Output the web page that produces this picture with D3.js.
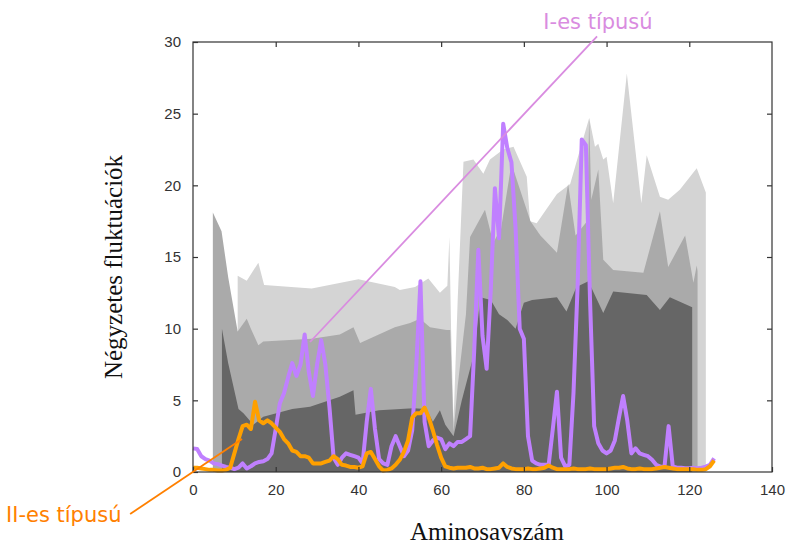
<!DOCTYPE html>
<html><head><meta charset="utf-8">
<script src="https://cdn.jsdelivr.net/npm/d3@7"></script>
<style>html,body{margin:0;padding:0;background:#fff;}svg{display:block;}</style>
</head><body>
<svg id="chart" width="787" height="547"></svg>
<script>
// ---- data ----
const xTicks = [0, 20, 40, 60, 80, 100, 120, 140];
const yTicks = [0, 5, 10, 15, 20, 25, 30];

// gray envelopes (residue, value)
const lightRes = [10.8,13,15.8,17.2,28.7,40,48.8,50,53.7,56.9,59.7,61.5,62,62.4,63,64,65.4,67.8,70.2,71.8,75,77.5,80.7,81.5,83.1,88,91.2,93.4,95.8,97.2,98,99.2,100,101.6,104.9,108.4,109.7,112.9,114.9,117.7,121.8,124];
const lightVal = [13.7,13.35,14.6,13.05,12.8,13.45,12.9,12.7,12.9,13.5,12.5,13,16.4,10,3.5,12,21.65,21.8,20.8,21.8,22.5,22.7,20.6,17.5,17.35,19.4,20.1,22.3,24.7,22.7,22.9,21.8,22,18.75,27.8,18.75,22.1,19.2,19,19.7,21.2,19.5];

const medRes = [4.8,6.9,8.5,10.8,13,14,15.8,17,28.7,35.5,38.8,40.4,48.8,52.5,54.9,57.3,61.3,62.2,63,64,66,67,70.6,72.6,74.5,77,81.6,84,88,90.7,92.5,95.3,95.8,96.3,98,99.2,101.6,108.9,112.9,114.9,119,121,121.8,122];
const medVal = [18.1,16.8,13.6,9.8,10.7,10,8.85,9.1,9.3,9.6,10.1,9,10.1,10.4,10.7,10.1,9.9,9.9,2.8,6,11,16.4,18.3,16,17,21.5,17.5,16.5,15.3,20.1,16.5,17.5,24.7,19,21.1,14.8,14.1,13.9,18.2,14.3,16.5,13.2,14.4,14];

const darkRes = [7,8.5,11,12.2,14.6,17,24,28.3,35.5,38.8,39.3,45,53.3,56.4,58,59.7,61,63,65,68,69.5,72,74,76,78,80,82,88,90.3,92.7,95.6,99.2,101.6,109.7,112.9,115.3,120.7];
const darkVal = [10,7.6,4.4,4.1,3.3,3.85,4.4,4.55,5.25,5.7,4.0,4.3,4.45,4.4,3.5,4.3,3.3,2.5,5,8.3,12.2,12,11,10.6,10,11.8,12,12.2,11.2,12.9,13.3,11.1,12.6,12.35,11.3,12.2,11.5];

// per-residue fluctuations
const typeI = [1.65,1.6,1.1,0.9,0.8,0.6,0.55,0.45,0.35,0.3,
  0.2,0.3,0.6,0.25,0.4,0.6,0.7,0.75,0.9,1.3,
  3.0,4.8,5.5,6.6,7.6,6.7,7.5,9.6,7.0,5.3,
  7.5,9.2,7.5,4.5,1.0,0.5,1.0,1.3,1.2,1.1,
  1.0,0.6,3.5,5.8,3.0,0.9,0.6,0.5,1.8,2.5,
  1.8,1.1,1.5,2.9,7.5,13.3,3.5,1.8,2.2,2.4,
  2.3,1.6,2.0,1.8,2.1,2.1,2.3,2.5,8.5,15.5,
  9.5,7.2,12.7,19.8,16.3,24.3,22.6,21.6,17,10,
  9.3,2.5,0.8,0.6,0.5,0.5,0.5,3.0,5.6,1.0,
  0.4,0.5,5.5,13,23.2,22.8,12,3.2,2.0,1.5,
  1.3,1.5,2.2,3.8,5.3,3.6,1.3,1.65,1.3,1.2,
  1.1,0.85,0.5,0.37,0.37,3.2,0.4,0.3,0.3,0.26,
  0.26,0.3,0.26,0.3,0.37,0.5,0.95];
const typeII = [0.3,0.3,0.25,0.2,0.15,0.15,0.1,0.1,0.15,0.3,
  1.3,2.3,3.2,3.3,3.0,4.9,3.6,3.4,3.6,3.4,
  3.1,2.8,2.3,2.0,1.5,1.4,1.1,1.1,1.0,0.6,
  0.6,0.6,0.7,0.8,1.1,0.9,0.5,0.45,0.35,0.35,
  0.3,0.4,1.3,1.4,0.9,0.4,0.1,0.15,0.25,0.5,
  0.85,1.4,2.2,3.8,4.1,4.1,4.5,3.8,2.9,1.9,
  1.0,0.4,0.3,0.25,0.3,0.3,0.3,0.35,0.25,0.25,
  0.3,0.2,0.2,0.25,0.3,0.6,0.35,0.25,0.2,0.2,
  0.2,0.25,0.2,0.2,0.25,0.3,0.45,0.3,0.2,0.2,
  0.2,0.2,0.25,0.2,0.2,0.2,0.25,0.2,0.2,0.2,
  0.2,0.25,0.3,0.3,0.35,0.25,0.2,0.2,0.25,0.2,
  0.2,0.2,0.25,0.3,0.35,0.3,0.25,0.2,0.2,0.2,
  0.2,0.2,0.15,0.15,0.2,0.4,0.8];

// annotation pointer lines (data coordinates)
const labelIPointer = [[97.7, 30.4], [28.3, 9.07]];
const labelIIPointer = [[-15.2, -2.93], [11.85, 2.3]];

// ---- drawing ----
const svg = d3.select("#chart");
const M = {left: 193, right: 772, top: 42, bottom: 472};
const x = d3.scaleLinear().domain([0, 140]).range([M.left, M.right]);
const y = d3.scaleLinear().domain([0, 30]).range([M.bottom, M.top]);

svg.append("clipPath").attr("id", "plotclip").append("rect")
  .attr("x", M.left).attr("y", M.top).attr("width", M.right - M.left).attr("height", M.bottom - M.top);

const area = d3.area().x(d => x(d[0])).y0(y(0)).y1(d => y(d[1]));
const g = svg.append("g").attr("clip-path", "url(#plotclip)");
[[lightRes, lightVal, "#d4d4d4"], [medRes, medVal, "#aaaaaa"], [darkRes, darkVal, "#666666"]].forEach(([rs, vs, c]) => {
  g.append("path").datum(rs.map((r, i) => [r, vs[i]])).attr("d", area).attr("fill", c);
});

const line = d3.line().x((d, i) => x(i)).y(d => y(d));
svg.append("path").datum(typeI).attr("d", line).attr("fill", "none")
  .attr("stroke", "#c080ff").attr("stroke-width", 4).attr("stroke-linejoin", "round");
svg.append("path").datum(typeII).attr("d", line).attr("fill", "none")
  .attr("stroke", "#ffa000").attr("stroke-width", 4).attr("stroke-linejoin", "round");

// frame & ticks
svg.append("rect").attr("x", M.left).attr("y", M.top).attr("width", M.right - M.left).attr("height", M.bottom - M.top)
  .attr("fill", "none").attr("stroke", "#333").attr("stroke-width", 1.2);
const axB = d3.axisBottom(x).tickValues(xTicks).tickSizeInner(-5).tickSizeOuter(0).tickPadding(12);
const axT = d3.axisTop(x).tickValues(xTicks.slice(1, -1)).tickSizeInner(-5).tickSizeOuter(0).tickFormat("");
const axL = d3.axisLeft(y).tickValues(yTicks).tickSizeInner(-5).tickSizeOuter(0).tickPadding(12);
const axR = d3.axisRight(y).tickValues(yTicks.slice(1, -1)).tickSizeInner(-5).tickSizeOuter(0).tickFormat("");
[[axB, `translate(0,${M.bottom})`], [axT, `translate(0,${M.top})`], [axL, `translate(${M.left},0)`], [axR, `translate(${M.right},0)`]]
  .forEach(([ax, tr]) => {
    const a = svg.append("g").attr("transform", tr).call(ax);
    a.select(".domain").remove();
    a.selectAll(".tick line").attr("stroke", "#333").attr("stroke-width", 1.2);
    a.selectAll("text").attr("fill", "#333").style("font-family", "Liberation Sans, Arial, sans-serif").style("font-size", "15px");
  });

// axis titles
svg.append("text").attr("x", 487).attr("y", 540).attr("text-anchor", "middle")
  .style("font-family", "Liberation Serif, Times New Roman, serif").style("font-size", "25px").attr("fill", "#111")
  .text("Aminosavszám");
svg.append("text").attr("transform", "translate(122,267) rotate(-90)").attr("text-anchor", "middle")
  .style("font-family", "Liberation Serif, Times New Roman, serif").style("font-size", "25px").attr("fill", "#111")
  .text("Négyzetes fluktuációk");

// annotations
const pl = d3.line().x(d => x(d[0])).y(d => y(d[1]));
svg.append("path").datum(labelIPointer).attr("d", pl).attr("stroke", "#d98ce0").attr("stroke-width", 1.8).attr("fill", "none");
svg.append("path").datum(labelIIPointer).attr("d", pl).attr("stroke", "#ff8000").attr("stroke-width", 1.8).attr("fill", "none");
svg.append("text").attr("x", 598).attr("y", 29).attr("text-anchor", "middle")
  .style("font-family", "DejaVu Sans, sans-serif").style("font-size", "21px").attr("fill", "#d98ce0").text("I-es típusú");
svg.append("text").attr("x", 6).attr("y", 522).attr("text-anchor", "start")
  .style("font-family", "DejaVu Sans, sans-serif").style("font-size", "21px").attr("fill", "#ff8000").text("II-es típusú");
</script>
</body></html>
